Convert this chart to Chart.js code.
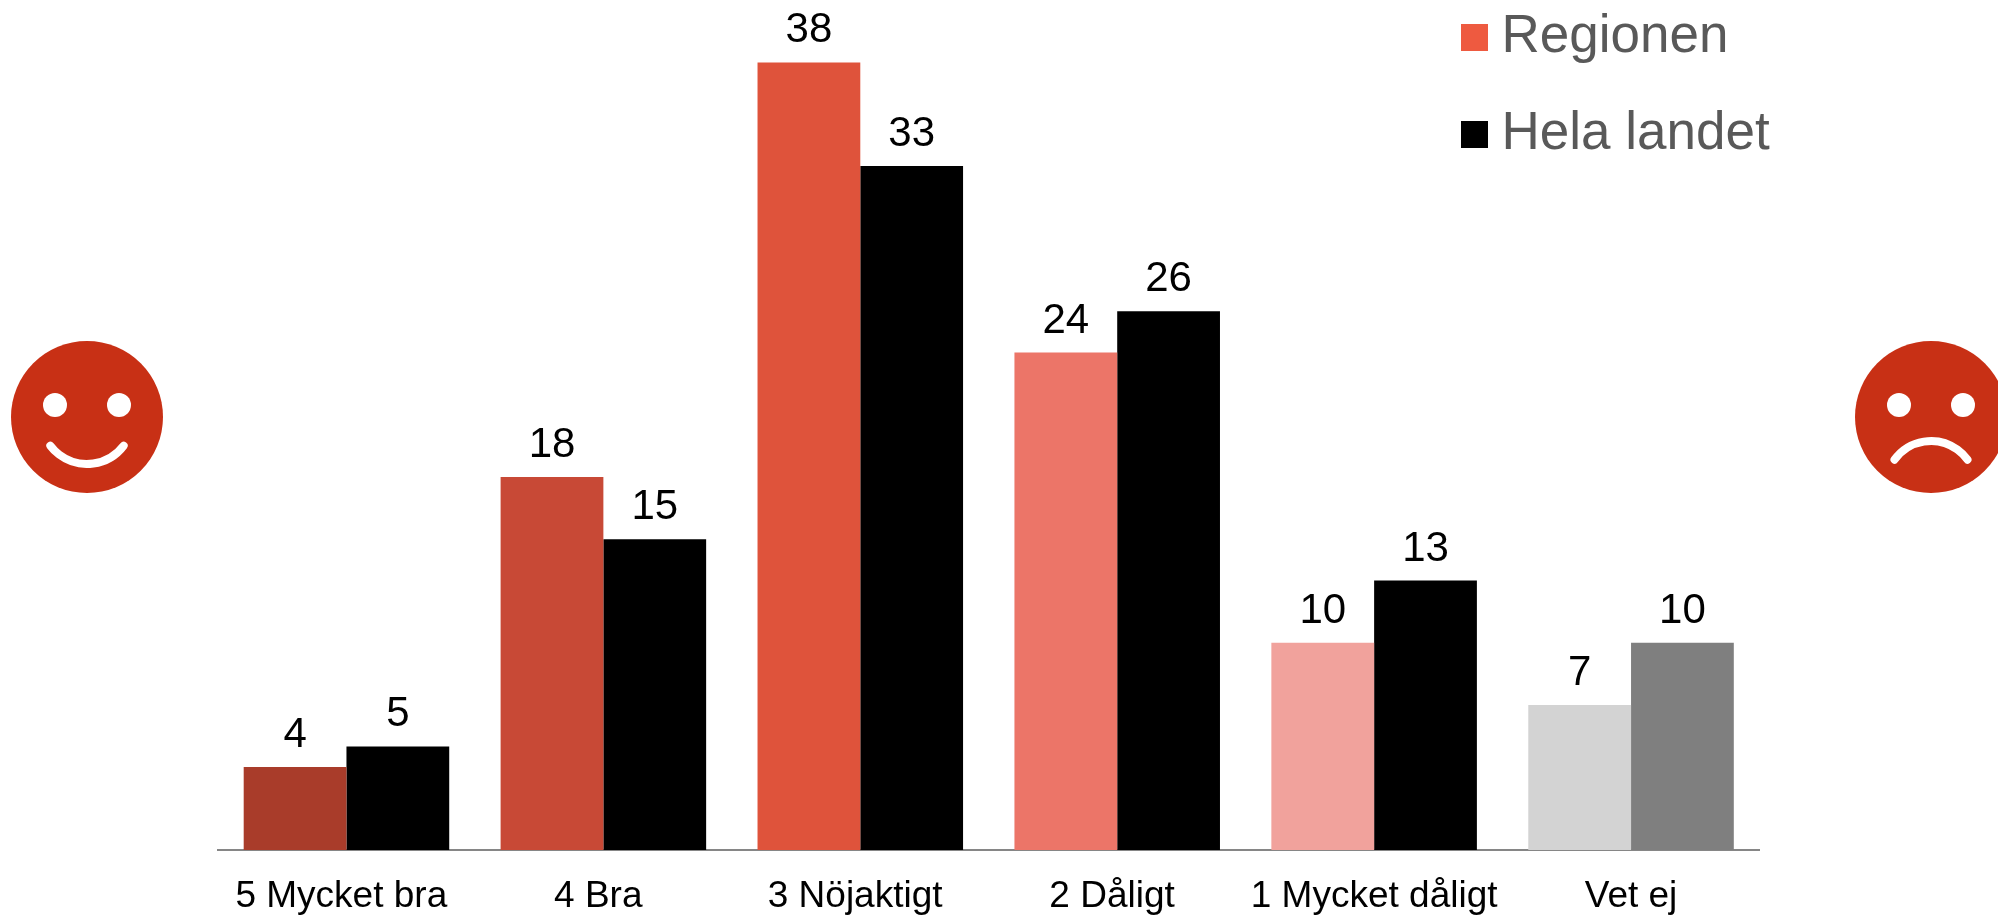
<!DOCTYPE html>
<html>
<head>
<meta charset="utf-8">
<style>
  html, body { margin: 0; padding: 0; background: #fff; overflow: hidden; }
  canvas { display: block; }
</style>
<script src="https://cdn.jsdelivr.net/npm/chart.js@4"></script>
</head>
<body>
<canvas id="chart1" width="1998" height="916"></canvas>
<script>
const categories = ['5 Mycket bra', '4 Bra', '3 Nöjaktigt', '2 Dåligt', '1 Mycket dåligt', 'Vet ej'];
const regionen = [4, 18, 38, 24, 10, 7];
const helaLandet = [5, 15, 33, 26, 13, 10];
const regionenColors = ['#A93C2A', '#C84936', '#DF533B', '#EC7568', '#F1A29C', '#D3D3D3'];
const landetColors = ['#000000', '#000000', '#000000', '#000000', '#000000', '#7F7F7F'];
const legendColors = ['#EE5A40', '#000000'];
const fontName = '"Liberation Sans", Arial, sans-serif';

// siffrorna ovanfor staplarna
const valueLabels = {
  id: 'valueLabels',
  afterDatasetsDraw(chart) {
    const c = chart.ctx;
    c.save();
    c.font = '42px ' + fontName;
    c.fillStyle = '#000';
    c.textAlign = 'center';
    c.textBaseline = 'alphabetic';
    chart.data.datasets.forEach((ds, i) => {
      chart.getDatasetMeta(i).data.forEach((bar, j) => {
        c.fillText(ds.data[j], bar.x, bar.y - 20);
      });
    });
    c.restore();
  }
};

// legenden ligger ovanpa diagrammet, uppe till hoger
const moveLegend = {
  id: 'moveLegend',
  afterLayout(chart) {
    const l = chart.legend;
    l.left = 1474 - l.options.labels.padding;
    l.right = l.left + l.width;
    l.top = -33;
    l.bottom = l.top + l.height;
  }
};

function face(c, x, y, sad) {
  c.fillStyle = '#C83015';
  c.beginPath();
  c.arc(x, y, 76, 0, Math.PI * 2);
  c.fill();
  c.fillStyle = '#fff';
  c.beginPath();
  c.arc(x - 32, y - 12, 12, 0, Math.PI * 2);
  c.fill();
  c.beginPath();
  c.arc(x + 32, y - 12, 12, 0, Math.PI * 2);
  c.fill();
  c.strokeStyle = '#fff';
  c.lineWidth = 8;
  c.lineCap = 'round';
  c.beginPath();
  if (sad) {
    c.arc(x, y + 69, 45, -Math.PI + 0.625, -0.625);
  } else {
    c.arc(x, y + 1, 46, 0.648, Math.PI - 0.648);
  }
  c.stroke();
}

const faces = {
  id: 'faces',
  afterDraw(chart) {
    const c = chart.ctx;
    c.save();
    face(c, 87, 417, false);
    face(c, 1931, 417, true);
    c.restore();
  }
};

const ctx1 = document.getElementById('chart1').getContext('2d');
const chart1 = new Chart(ctx1, {
  type: 'bar',
  data: {
    labels: categories,
    datasets: [
      { label: 'Regionen', data: regionen, backgroundColor: regionenColors },
      { label: 'Hela landet', data: helaLandet, backgroundColor: landetColors }
    ]
  },
  options: {
    responsive: false,
    animation: false,
    layout: { padding: { left: 218, right: 238.5, top: 21, bottom: 0 } },
    categoryPercentage: 0.8,
    barPercentage: 1,
    scales: {
      x: {
        grid: { display: false, drawTicks: false },
        border: { color: '#868686', width: 2 },
        afterFit: s => { s.height = 66; },
        ticks: {
          padding: 25,
          color: '#000',
          font: { family: fontName, size: 37 },
          autoSkip: false,
          maxRotation: 0,
          // de fyra forsta etiketterna sitter lite till vanster i originalet
          callback(value, i) {
            return i < 4 ? categories[i] + ' ' : categories[i];
          }
        }
      },
      y: { display: false, min: 0, max: 40 }
    },
    plugins: {
      tooltip: { enabled: false },
      legend: {
        position: 'chartArea',
        align: 'start',
        labels: {
          usePointStyle: true,
          pointStyle: 'rect',
          boxWidth: 1,
          boxHeight: 27,
          padding: 44,
          color: '#595959',
          font: { family: fontName, size: 53 },
          generateLabels(chart) {
            return Chart.defaults.plugins.legend.labels.generateLabels(chart).map((it, i) => {
              it.fillStyle = legendColors[i];
              it.strokeStyle = legendColors[i];
              it.lineWidth = 0;
              return it;
            });
          }
        }
      }
    }
  },
  plugins: [valueLabels, moveLegend, faces]
});
</script>
</body>
</html>
